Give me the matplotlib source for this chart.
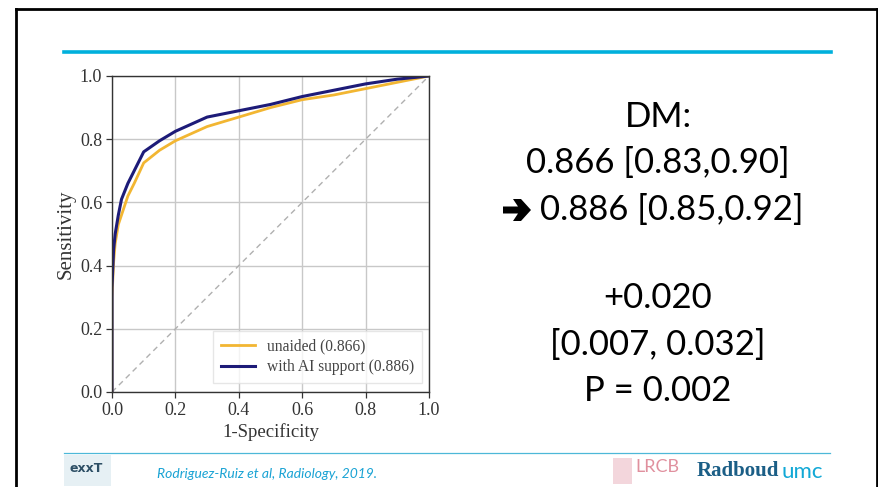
import matplotlib
matplotlib.use("Agg")
import matplotlib.pyplot as plt
from matplotlib.lines import Line2D
from matplotlib.patches import Rectangle, Polygon

# ---- data ----
fpr_unaided = [0.0, 0.0, 0.005, 0.01, 0.02, 0.03, 0.05, 0.07, 0.10, 0.15, 0.20, 0.30, 0.40, 0.50, 0.60, 0.70, 0.80, 0.90, 1.0]
tpr_unaided = [0.0, 0.30, 0.41, 0.47, 0.53, 0.56, 0.62, 0.66, 0.725, 0.765, 0.795, 0.84, 0.87, 0.90, 0.925, 0.94, 0.96, 0.98, 1.0]
fpr_ai = [0.0, 0.0, 0.005, 0.01, 0.02, 0.03, 0.05, 0.07, 0.10, 0.15, 0.20, 0.30, 0.40, 0.50, 0.60, 0.70, 0.80, 0.90, 1.0]
tpr_ai = [0.0, 0.33, 0.45, 0.50, 0.56, 0.61, 0.66, 0.70, 0.76, 0.795, 0.825, 0.87, 0.89, 0.91, 0.935, 0.955, 0.975, 0.99, 1.0]
series_labels = ["unaided (0.866)", "with AI support (0.886)"]
ticks = [0.0, 0.2, 0.4, 0.6, 0.8, 1.0]
tick_labels = ["0.0", "0.2", "0.4", "0.6", "0.8", "1.0"]
right_lines_top = ["DM:", "0.866 [0.83,0.90]", "0.886 [0.85,0.92]"]
right_lines_bottom = ["+0.020", "[0.007, 0.032]", "P = 0.002"]
citation = "Rodriguez-Ruiz et al, Radiology, 2019."

W, H = 879, 487
fig = plt.figure(figsize=(W / 100, H / 100), dpi=100)
fig.patch.set_facecolor("white")

def fx(px):
    return px / W

def fy(py):
    return 1 - py / H

# slide frame
fig.add_artist(Line2D([fx(16), fx(16)], [fy(9), 0], color="black", lw=2))
fig.add_artist(Line2D([fx(16), fx(877)], [fy(9), fy(9)], color="black", lw=2))
fig.add_artist(Line2D([fx(877), fx(877)], [fy(9), 0], color="black", lw=2))
# top cyan rule
fig.add_artist(Line2D([fx(64), fx(831)], [fy(52), fy(52)], color="#00b0dc", lw=2.6))
# footer rule
fig.add_artist(Line2D([fx(64), fx(830)], [fy(453), fy(453)], color="#4db8d8", lw=0.9))

# ---- ROC axes ----
x0, x1 = 112, 429
y1, y0 = 76, 392
ax = fig.add_axes([fx(x0), fy(y0), fx(x1) - fx(x0), (y0 - y1) / H])
serif = "Liberation Serif"
ax.plot([0, 1], [0, 1], color="#b0b0b0", lw=1.0, ls=(0, (4, 3)))
ax.plot(fpr_unaided, tpr_unaided, color="#f2b632", lw=2.0, label=series_labels[0])
ax.plot(fpr_ai, tpr_ai, color="#1d1b78", lw=2.2, label=series_labels[1])
ax.set_xlim(0, 1)
ax.set_ylim(0, 1)
ax.set_xticks(ticks)
ax.set_yticks(ticks)
ax.set_xticklabels(tick_labels, fontfamily=serif, fontsize=13, color="#333333")
ax.set_yticklabels(tick_labels, fontfamily=serif, fontsize=13, color="#333333")
ax.grid(True, color="#c8c8c8", lw=1.0)
ax.set_axisbelow(True)
ax.tick_params(direction="out", length=4, width=0.9, colors="#333333", pad=3)
for s in ax.spines.values():
    s.set_color("#333333")
    s.set_linewidth(1.0)
ax.set_xlabel("1-Specificity", fontfamily=serif, fontsize=13.5, color="#333333", labelpad=3)
ax.set_ylabel("Sensitivity", fontfamily=serif, fontsize=15, color="#333333", labelpad=3)
leg = ax.legend(loc="lower right", prop={"family": serif, "size": 11.2},
                frameon=True, fancybox=False, edgecolor="#e0e0e0",
                handlelength=2.2, handletextpad=0.75, borderpad=0.5,
                labelspacing=0.3, borderaxespad=0.0,
                bbox_to_anchor=(0.978, 0.028))
for t in leg.get_texts():
    t.set_color("#444444")

# ---- right-hand text ----
rfont = ["Lato", "DejaVu Sans"]
FS = 25
cx = fx(658)
ys_top = [117, 163, 210]
for i, (txt, yy) in enumerate(zip(right_lines_top, ys_top)):
    if i == 2:
        fig.text(fx(540), fy(yy), txt, ha="left", va="center",
                 fontsize=FS, family=rfont, color="black")
    else:
        fig.text(cx, fy(yy), txt, ha="center", va="center", fontsize=FS,
                 family=rfont, color="black")
# heavy arrow (Wingdings-like)
ay = 210
arrow_px = [(503, ay - 3.5), (518, ay - 3.5), (513, ay - 11), (521, ay - 11),
            (531, ay), (521, ay + 11), (513, ay + 11), (518, ay + 3.5),
            (503, ay + 3.5)]
fig.add_artist(Polygon([(fx(px), fy(py)) for px, py in arrow_px], closed=True,
                       facecolor="black", edgecolor="none"))
ys_bot = [298, 345, 391]
for txt, yy in zip(right_lines_bottom, ys_bot):
    fig.text(cx, fy(yy), txt, ha="center", va="center", fontsize=FS,
             family=rfont, color="black")

# ---- footer ----
fig.text(fx(157), fy(474), citation, ha="left", va="center", fontsize=10,
         family=["Lato", "DejaVu Sans"], style="italic", color="#1aa3d4")
# exxt logo
fig.add_artist(Rectangle((fx(64), fy(486)), fx(47), 31 / H, facecolor="#e6f0f4",
                         edgecolor="none"))
fig.text(fx(86), fy(468), "exxT", ha="center", va="center", fontsize=9,
         family=["DejaVu Sans"], fontweight="bold", color="#2e5066")
# LRCB logo
fig.add_artist(Rectangle((fx(613), fy(484)), fx(19), 26 / H, facecolor="#f3d6dc",
                         edgecolor="none"))
fig.text(fx(657), fy(467), "LRCB", ha="center", va="center", fontsize=13,
         family=["Lato", "DejaVu Sans"], color="#e0909e")
fig.text(fx(697), fy(471), "Radboud", ha="left", va="center", fontsize=15,
         family=["Liberation Serif"], fontweight="bold", color="#1b5e86")
fig.text(fx(782), fy(472), "umc", ha="left", va="center", fontsize=16,
         family=["Lato", "DejaVu Sans"], color="#11a8d6")

fig.savefig("out.png", dpi=100)
